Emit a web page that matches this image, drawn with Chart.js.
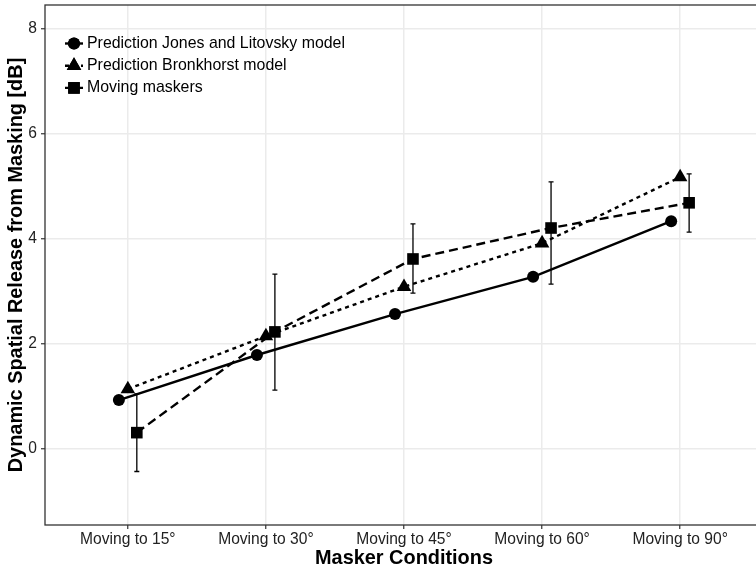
<!DOCTYPE html>
<html>
<head>
<meta charset="utf-8">
<script src="https://cdn.jsdelivr.net/npm/chart.js@4/dist/chart.umd.min.js"></script>
<style>
  html, body { margin:0; padding:0; background:#fff; overflow:hidden; }
  #chart { position:absolute; left:0; top:0; }
</style>
</head>
<body>
<canvas id="chart" width="770" height="568"></canvas>
<script>
// categories and values
const conditions = ['Moving to 15°','Moving to 30°','Moving to 45°','Moving to 60°','Moving to 90°'];
const jonesLitovsky = [0.93, 1.79, 2.57, 3.28, 4.34];
const bronkhorst    = [1.14, 2.15, 3.09, 3.92, 5.18];
const movingMaskers = [0.31, 2.23, 3.62, 4.21, 4.69];
const movingLow     = [-0.43, 1.12, 2.97, 3.14, 4.13];
const movingHigh    = [1.05, 3.33, 4.29, 5.09, 5.24];
const yTicks = [0, 2, 4, 6, 8];

const FONT = '"Liberation Sans", Arial, sans-serif';
const dodge = 0.065;

function pts(vals, off){ return vals.map((v,i)=>({x:i+1+off, y:v})); }

const series = [
  {label:'Prediction Jones and Litovsky model', data:pts(jonesLitovsky,-dodge), pointStyle:'circle', pointRadius:6, borderDash:[]},
  {label:'Prediction Bronkhorst model', data:pts(bronkhorst,0), pointStyle:'triangle', pointRadius:8.4, borderDash:[4,4]},
  {label:'Moving maskers', data:pts(movingMaskers,dodge), pointStyle:'rect', pointRadius:8.2, borderDash:[9,5]}
];

// error bars for the moving maskers, drawn through the chart scales
const errorBars = {
  id:'errorBars',
  afterDatasetsDraw(chart){
    const {ctx, scales:{x, y}} = chart;
    ctx.save();
    ctx.strokeStyle = '#000';
    ctx.lineWidth = 1.3;
    movingMaskers.forEach((m,i)=>{
      const px = x.getPixelForValue(i+1+dodge);
      const lo = y.getPixelForValue(movingLow[i]);
      const hi = y.getPixelForValue(movingHigh[i]);
      ctx.beginPath();
      ctx.moveTo(px, lo); ctx.lineTo(px, hi);
      ctx.moveTo(px-2.5, lo); ctx.lineTo(px+2.5, lo);
      ctx.moveTo(px-2.5, hi); ctx.lineTo(px+2.5, hi);
      ctx.stroke();
    });
    ctx.restore();
  }
};

// panel border + ggplot style legend inside the panel
const panelLegend = {
  id:'panelLegend',
  afterDraw(chart){
    const {ctx, chartArea:a} = chart;
    ctx.save();
    ctx.strokeStyle = '#333';
    ctx.lineWidth = 1.3;
    ctx.strokeRect(a.left, a.top, a.right-a.left, a.bottom-a.top);

    const x0 = a.left + 29, y0 = a.top + 38.5, step = 22.2;
    chart.data.datasets.forEach((ds,i)=>{
      const cy = y0 + i*step;
      ctx.strokeStyle = '#000';
      ctx.lineWidth = 2.4;
      ctx.setLineDash(ds.borderDash);
      ctx.beginPath();
      ctx.moveTo(x0-9, cy); ctx.lineTo(x0+9, cy);
      ctx.stroke();
      ctx.setLineDash([]);
      ctx.fillStyle = '#000';
      Chart.helpers.drawPoint(ctx, {pointStyle:ds.pointStyle, radius:ds.pointRadius, rotation:0, borderWidth:0}, x0, cy);
      ctx.fill();
      ctx.fillStyle = '#000';
      ctx.font = '15.9px ' + FONT;
      ctx.textBaseline = 'middle';
      ctx.textAlign = 'left';
      ctx.fillText(ds.label, x0+13, cy);
    });
    ctx.restore();
  }
};

new Chart(document.getElementById('chart').getContext('2d'), {
  type:'line',
  data:{
    datasets: series.map(s=>({
      label:s.label,
      data:s.data,
      borderColor:'#000',
      backgroundColor:'#000',
      borderWidth:2.4,
      borderDash:s.borderDash,
      pointStyle:s.pointStyle,
      pointRadius:s.pointRadius,
      pointBorderWidth:0,
      pointBackgroundColor:'#000',
      tension:0,
      fill:false,
      clip:false
    }))
  },
  options:{
    responsive:false,
    animation:false,
    devicePixelRatio:1,
    layout:{autoPadding:false, padding:{top:5, right:7, left:0, bottom:0}},
    plugins:{legend:{display:false}, tooltip:{enabled:false}},
    scales:{
      x:{
        type:'linear', min:0.4, max:5.6,
        afterBuildTicks(s){ s.ticks = conditions.map((c,i)=>({value:i+1})); },
        afterFit(s){ s.height = 43; s.paddingLeft = 0; s.paddingRight = 0; },
        ticks:{callback:v=>conditions[v-1], color:'#222', font:{family:FONT, size:15.6}, padding:1, maxRotation:0, autoSkip:false},
        grid:{color:'#ebebeb', lineWidth:1.5, tickLength:4, tickColor:'#333', tickWidth:1.2},
        border:{display:false},
        title:{display:true, text:'Masker Conditions', color:'#000', font:{family:FONT, size:19.9, weight:'bold'}, padding:{top:0, bottom:-2}}
      },
      y:{
        type:'linear', min:-1.45, max:8.46,
        afterBuildTicks(s){ s.ticks = yTicks.map(v=>({value:v})); },
        afterFit(s){ s.width = 45; s.paddingTop = 0; s.paddingBottom = 0; },
        ticks:{color:'#222', font:{family:FONT, size:15.6}, padding:4},
        grid:{color:'#ebebeb', lineWidth:1.5, tickLength:4, tickColor:'#333', tickWidth:1.2},
        border:{display:false},
        title:{display:true, text:'Dynamic Spatial Release from Masking [dB]', color:'#000', font:{family:FONT, size:19.9, weight:'bold'}, padding:{top:4.5, bottom:0}}
      }
    }
  },
  plugins:[errorBars, panelLegend]
});
</script>
</body>
</html>
